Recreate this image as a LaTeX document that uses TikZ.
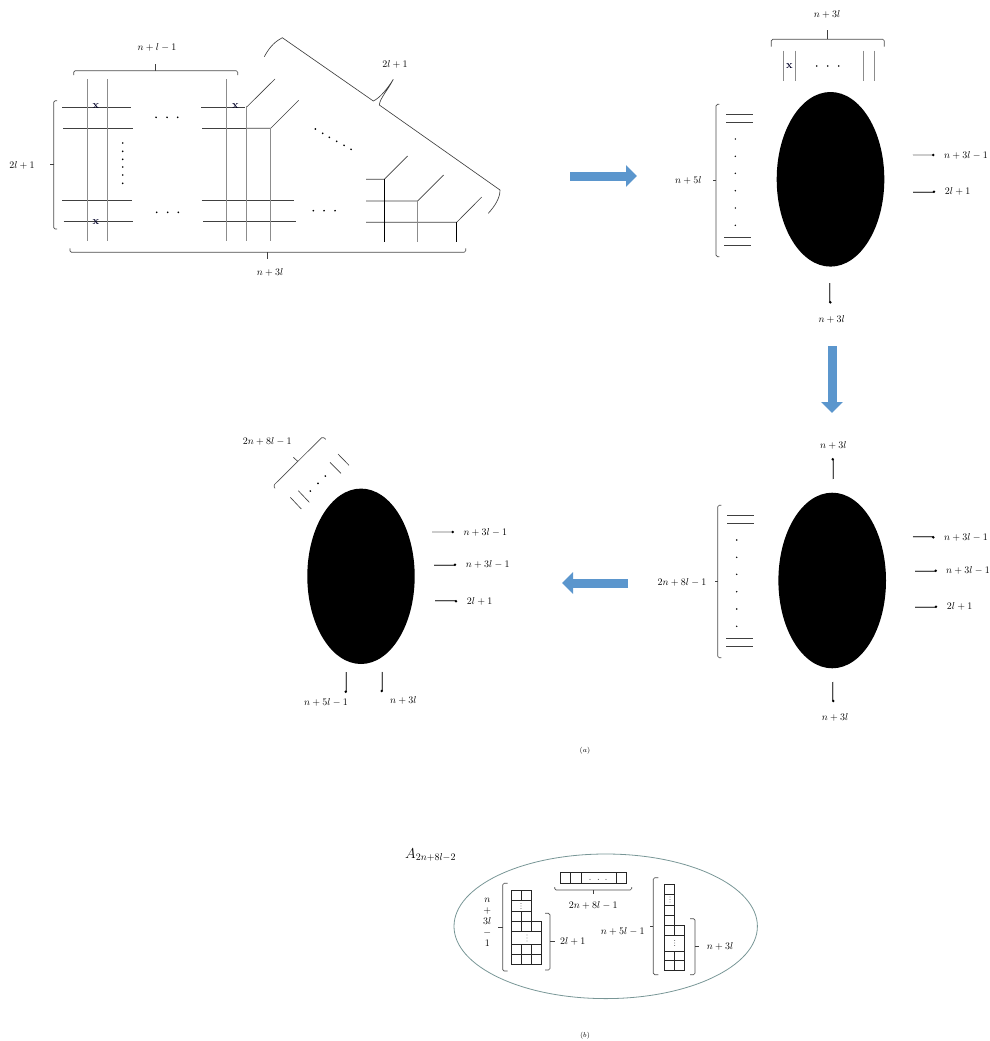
\documentclass[tikz,border=0pt]{standalone}
\usepackage{amsmath,amssymb}
\usepackage{xcolor}
\usetikzlibrary{arrows.meta,calc,positioning}
\definecolor{flow}{RGB}{91,150,205}
\definecolor{rim}{RGB}{120,150,150}
\tikzset{
  lab/.style={font=\fontsize{9.7}{10}\selectfont,inner sep=0pt},
  wire/.style={draw=black!75,line width=.65pt},
  pale/.style={draw=black!45,line width=.8pt},
  brak/.style={draw=black!70,line width=.65pt,rounded corners=1.5pt},
  stub/.style={draw=black!70,line width=.6pt,double=black!20,double distance=1.1pt},
  flowarrow/.style={flow,line width=9pt,-{Triangle[length=11pt,width=21pt]}},
  cell/.style={draw=black!85,line width=.6pt},
}
\begin{document}
\begin{tikzpicture}[x=1pt,y=-1pt]
  \useasboundingbox (0,0) rectangle (989,1041);
  % first picture
  \foreach \y/\xa/\xb/\xc in {107/62/131/201,128.3/63/132.5/202.3,200.3/62/131.7/201.7,221.7/63.7/133/203}
    {\draw[wire] (\xa,\y) -- (\xb,\y); \draw[wire] (\xc,\y) -- +(44,0);}
  \draw[wire] (246,107) -- (246.7,107) -- (275,79);
  \draw[wire] (246,128.3) -- (270.7,128.3) -- (298.7,100.3);
  \draw[wire] (246,200.3) -- (294,200.3);
  \draw[wire] (246,221.7) -- (296,221.7);
  \foreach \x in {87,107,226.3} \draw[pale] (\x,79) -- (\x,240.7);
  \draw[pale] (246.7,107) -- (246.7,240.7);
  \draw[pale] (270.7,128.3) -- (270.7,240.7);
  \draw[wire] (366,179.3) -- (384.3,179.3) -- (407.7,156);
  \draw[wire] (366,201) -- (417.7,201) -- (443.7,175);
  \draw[wire] (366,222.3) -- (456.7,222.3) -- (481.7,197);
  \draw[black,line width=.65pt] (384.3,179.3) -- (384.3,241.7);
  \draw[pale] (417.7,201) -- (417.7,241.7);
  \draw[black,line width=.65pt] (456.7,222.3) -- (456.7,241.7);
  \foreach \x/\y in {96/107,235.3/107,96/222.3,789.3/66.3}
    \node[font=\bfseries\fontsize{11}{11}\selectfont,text=black!85!blue,inner sep=0pt] at (\x,\y-.6) {x};
  \foreach \x/\y in {156/117.3,167/117.3,177.7/117.3,156.7/212.3,167.7/212.3,178.3/212.3,313.3/210.7,324/210.7,335/210.7,122.7/143,122.7/151.3,122.7/159.3,122.7/167,122.7/175,122.7/183.3,315.3/129,322.7/133.3,329.3/137.3,336.7/141.3,344/145.3,351/149.3}
    \fill (\x,\y) circle (.95);
  \draw[brak] (57,100.7) -- (53.7,100.7) -- (53.7,229) -- (57,229);
  \draw[wire] (53.7,164.7) -- (50,164.7);
  \node[lab] (leftcount) at (22,165) {$2l+1$};
  \draw[brak] (73.7,75) -- (73.7,70.7) -- (237.7,70.7) -- (237.7,75);
  \draw[wire] (155.7,70.7) -- (155.7,64);
  \node[lab] (topcount) at (157,47) {$n+l-1$};
  \draw[brak] (70,248.3) -- (70,252.3) -- (465.7,252.3) -- (465.7,248.3);
  \draw[wire] (267.7,252.3) -- (267.7,259.3);
  \node[lab] (bottomcount) at (270,272) {$n+3l$};
  \draw[wire] (264.3,56.7) .. controls (270,46) and (276,41) .. (282.3,37.7) -- (373.3,101) .. controls (380,98) and (388,88) .. (393.3,79.3) .. controls (388,90) and (380,98) .. (379.3,105) -- (500,190) .. controls (500,198) and (495,206) .. (488.3,213.3);
  \node[lab] (diagcount) at (395,64.3) {$2l+1$};
  % second picture
  \fill (830.5,179.3) ellipse [x radius=53.8,y radius=87.3];
  \draw[brak] (771.3,46.7) -- (771.3,39.3) -- (884.3,39.3) -- (884.3,46.7);
  \draw[wire] (827.7,39.3) -- (827.7,30);
  \node[lab] (topleg) at (827,14) {$n+3l$};
  \foreach \x in {783.7,795,863.3,874.3} \draw[pale] (\x,50.7) -- (\x,80.7);
  \foreach \x in {816.7,827.7,838.7} \fill (\x,66) circle (.95);
  \draw[brak] (719.3,104.3) -- (716,104.3) -- (716,256.7) -- (719.3,256.7);
  \draw[wire] (716,180.3) -- (713,180.3);
  \node[lab] (leftlegs) at (688.3,180) {$n+5l$};
  \foreach \xa/\y in {726/114.7,726/122.3,724.3/237.7,724.3/245.3} \draw[wire] (\xa,\y) -- +(26.7,0);
  \foreach \y in {139,156.3,173.3,190.7,208,225.3} \fill (735.3,\y) circle (.8);
  \draw[stub] (912.7,155) -- (933.3,155);
  \fill (933.3,155) circle (1.4);
  \node[lab,anchor=west] (rightone) at (944,155) {$n+3l-1$};
  \draw[stub] (913.3,191.7) -- (934,191.7);
  \fill (934,191.7) circle (1.4);
  \node[lab,anchor=west] (righttwo) at (944.7,191.7) {$2l+1$};
  \draw[stub] (830.3,283.3) -- (830.3,302.3);
  \fill (830.3,302.3) circle (1.4);
  \node[lab] (downleg) at (831.7,319.3) {$n+3l$};
  % third picture
  \fill (832.2,580.5) ellipse [x radius=53.8,y radius=87.8];
  \draw[stub] (832.7,479.3) -- (832.7,459.3);
  \fill (832.7,459.3) circle (1.4);
  \node[lab] (upleg) at (833.3,445) {$n+3l$};
  \draw[brak] (721.3,505.3) -- (717.7,505.3) -- (717.7,657.7) -- (721.3,657.7);
  \draw[wire] (717.7,581.3) -- (715,581.3);
  \node[lab] (midlegs) at (682,582) {$2n+8l-1$};
  \foreach \xa/\y in {727.3/515.3,727.3/523.3,726/638.7,726/646.3} \draw[wire] (\xa,\y) -- +(26.7,0);
  \foreach \y in {540,557.3,574.3,591.7,609,626.3} \fill (736.7,\y) circle (.8);
  \draw[stub] (912.7,537.3) -- (933.3,537.3);
  \fill (933.3,537.3) circle (1.4);
  \node[lab,anchor=west] (midone) at (944,537.3) {$n+3l-1$};
  \draw[stub] (915,570.7) -- (935.7,570.7);
  \fill (935.7,570.7) circle (1.4);
  \node[lab,anchor=west] (midtwo) at (946,570.7) {$n+3l-1$};
  \draw[stub] (915.3,606.7) -- (936,606.7);
  \fill (936,606.7) circle (1.4);
  \node[lab,anchor=west] (midthree) at (946.7,606.7) {$2l+1$};
  \draw[stub] (833.3,681.7) -- (833.3,701);
  \fill (833.3,701) circle (1.4);
  \node[lab] (middown) at (835,717.7) {$n+3l$};
  % fourth picture
  \fill (361,576.3) ellipse [x radius=53.7,y radius=87.7];
  \draw[brak] (275,488.3) -- (273.3,485.7) -- (322.7,436.7) -- (325.7,439.3);
  \draw[wire] (297.7,461.3) -- (293.3,457.3);
  \node[lab] (slantcount) at (267.3,441) {$2n+8l-1$};
  \foreach \xa/\ya/\xb/\yb in {290.3/497.3/301.3/509,298.3/490.7/309.3/502.3,330/462.3/341/473.3,338/454/349/465.3}
    \draw[wire] (\xa,\ya) -- (\xb,\yb);
  \foreach \x/\y in {310.3/491,318/483.3,325.3/476} \fill (\x,\y) circle (.95);
  \draw[stub] (432.3,532) -- (452.7,532);
  \fill (452.7,532) circle (1.4);
  \node[lab,anchor=west] (lastone) at (463.3,532) {$n+3l-1$};
  \draw[stub] (434.3,564.7) -- (455,564.7);
  \fill (455,564.7) circle (1.4);
  \node[lab,anchor=west] (lasttwo) at (465.7,564.7) {$n+3l-1$};
  \draw[stub] (435.3,601.3) -- (456,601.3);
  \fill (456,601.3) circle (1.4);
  \node[lab,anchor=west] (lastthree) at (466.7,601.3) {$2l+1$};
  \draw[stub] (345.7,672.3) -- (345.7,691.7);
  \fill (345.7,691.7) circle (1.4);
  \node[lab] (lastdownA) at (326,702.7) {$n+5l-1$};
  \draw[stub] (381.7,671.7) -- (381.7,691);
  \fill (381.7,691) circle (1.4);
  \node[lab] (lastdownB) at (403.3,700) {$n+3l$};
  % arrows between them
  \draw[flowarrow] (570,176) -- (637,176);
  \draw[flowarrow] (832,346) -- (832,413);
  \draw[flowarrow] (628,583) -- (562,583);
  \node[lab,font=\fontsize{7.5}{8}\selectfont] (parta) at (585,751) {$(a)$};
  % lower picture
  \draw[rim,line width=.8pt] (605.7,926.3) ellipse [x radius=151.7,y radius=72.3];
  \node[inner sep=0pt,anchor=west,font=\fontsize{14.5}{16}\selectfont] (algname) at (405,855) {$A_{2n+8l-2}$};
  \draw[cell] (560.7,872.7) rectangle (626.7,883.3);
  \foreach \x in {570.7,581,616} \draw[cell] (\x,872.7) -- (\x,883.3);
  \foreach \x in {590,598.3,606} \fill (\x,879.3) circle (.45);
  \draw[brak] (554.7,887) -- (554.7,890) -- (631.7,890) -- (631.7,887);
  \draw[wire] (593,890) -- (593,894);
  \node[lab] (rowcount) at (593.3,905.7) {$2n+8l-1$};
  % left diagram
  \draw[cell] (511,890.3) rectangle (531,900.3);
  \draw[cell] (511,911.7) rectangle (531,921.7);
  \draw[cell] (511,921.7) rectangle (541,931.7);
  \draw[cell] (511,944.7) rectangle (541,954.7);
  \draw[cell] (511,954.7) rectangle (541,964.3);
  \draw[cell] (511,900.3) -- (511,911.7) (531,900.3) -- (531,911.7) (511,931.7) -- (511,944.7) (541,931.7) -- (541,944.7);
  \foreach \x/\ya/\yb in {521/890.3/900.3,521/911.7/931.7,531/921.7/931.7,521/944.7/964.3,531/944.7/964.3}
    \draw[cell] (\x,\ya) -- (\x,\yb);
  \foreach \y in {903.5,906,908.5} \fill (521,\y) circle (.4);
  \foreach \y in {935,938,941} \fill (527,\y) circle (.4);
  \draw[brak] (507.7,883.3) -- (502.7,883.3) -- (502.7,971) -- (507.7,971);
  \draw[wire] (502.7,927.3) -- (498,927.3);
  \node[lab,align=center] (leftlabel) at (487.3,922.7) {$n$\\[1pt]$+$\\[1pt]$3l$\\[1pt]$-$\\[1pt]$1$};
  \draw[brak] (545,913.3) -- (550,913.3) -- (550,970) -- (545,970);
  \draw[wire] (550,941.7) -- (555,941.7);
  \node[lab] (leftrows) at (572.7,941.7) {$2l+1$};
  % right diagram
  \draw[cell] (664.7,884.7) rectangle (674.7,894.3);
  \draw[cell] (664.7,905.3) rectangle (674.7,915.3);
  \draw[cell] (664.7,915.3) rectangle (674.7,925);
  \draw[cell] (664.7,925) rectangle (684.7,935);
  \draw[cell] (664.7,951.3) rectangle (684.7,960.7);
  \draw[cell] (664.7,960.7) rectangle (684.7,970);
  \draw[cell] (664.7,894.3) -- (664.7,905.3) (674.7,894.3) -- (674.7,905.3) (664.7,935) -- (664.7,951.3) (684.7,935) -- (684.7,951.3);
  \foreach \x/\ya/\yb in {674.7/925/935,674.7/951.3/970}
    \draw[cell] (\x,\ya) -- (\x,\yb);
  \foreach \y in {897,899.5,902} \fill (670,\y) circle (.4);
  \foreach \y in {940.5,943,945.5} \fill (674.7,\y) circle (.4);
  \draw[brak] (658.3,877.7) -- (653.3,877.7) -- (653.3,974.7) -- (658.3,974.7);
  \draw[wire] (653.3,926) -- (650,926);
  \node[lab] (rightlabel) at (622.7,931.7) {$n+5l-1$};
  \draw[brak] (690,918.7) -- (695,918.7) -- (695,974.7) -- (690,974.7);
  \draw[wire] (695,946.7) -- (699.3,946.7);
  \node[lab] (rightrows) at (720,946) {$n+3l$};
  \node[lab,font=\fontsize{7.5}{8}\selectfont] (partb) at (585,1036) {$(b)$};
\end{tikzpicture}
\end{document}
